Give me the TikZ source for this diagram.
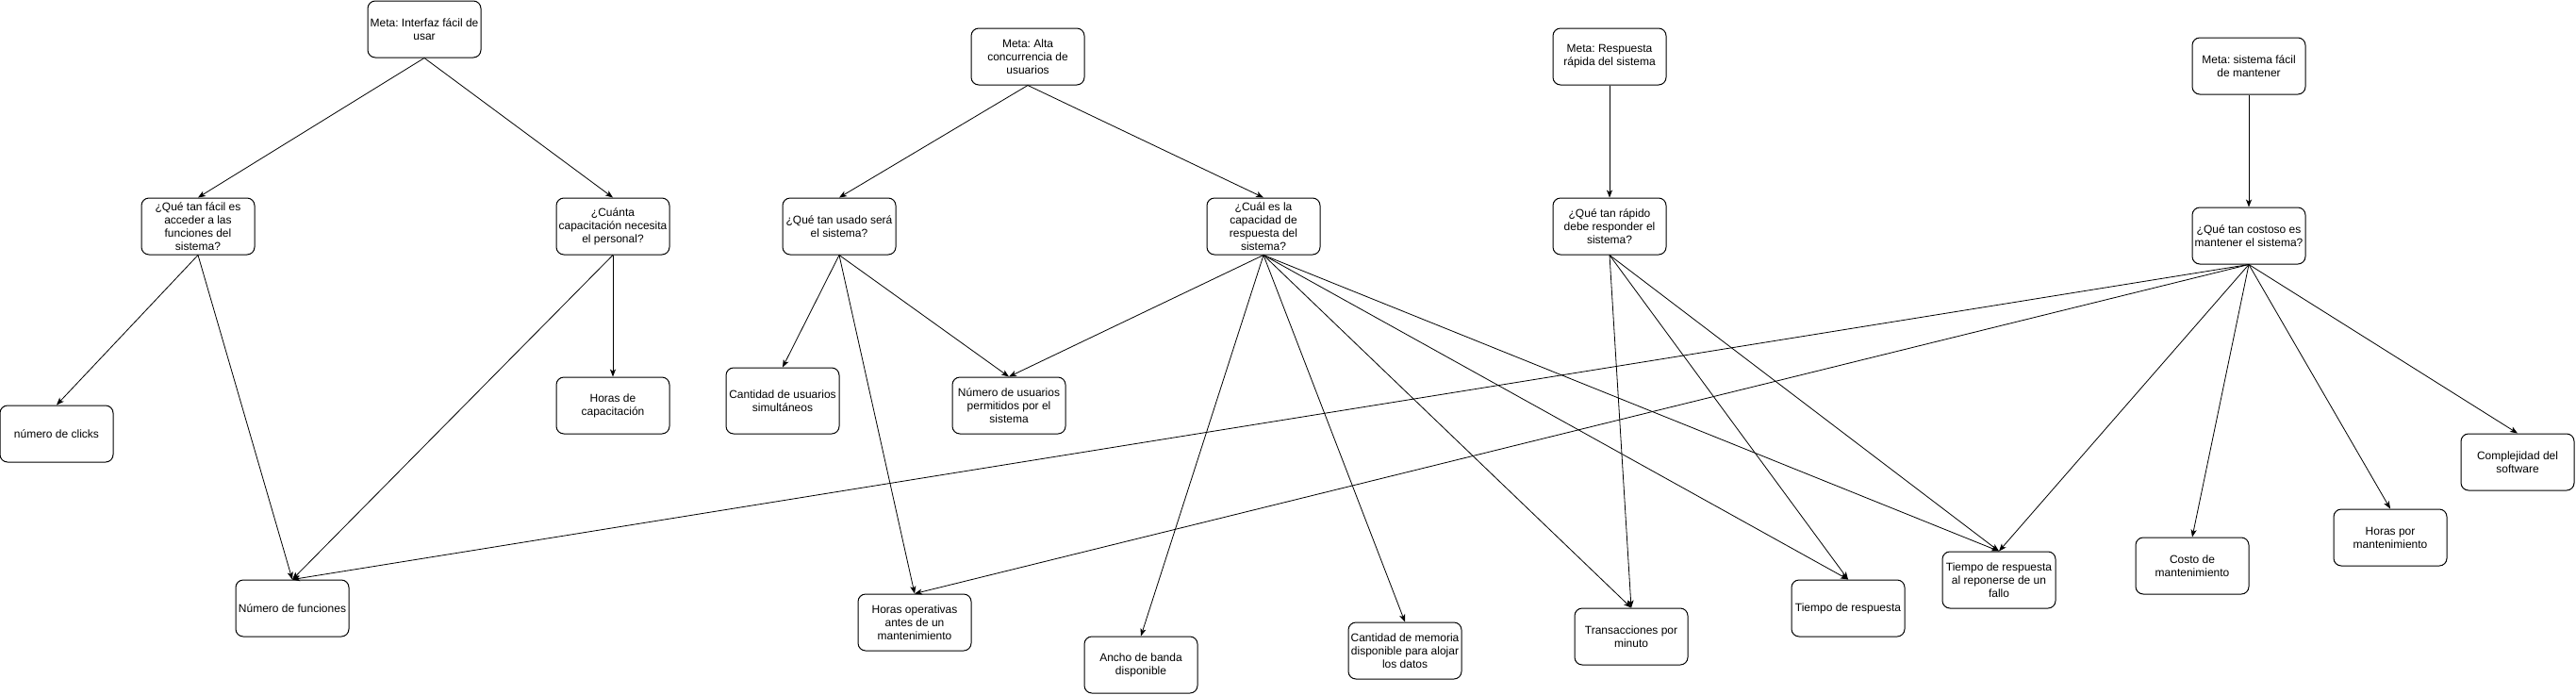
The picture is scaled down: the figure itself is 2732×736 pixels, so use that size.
\documentclass[tikz,border=0pt]{standalone}
\usepackage{fontspec}
\setmainfont{Liberation Sans}
\usepackage{tikz}
\usetikzlibrary{arrows.meta,positioning}
\frenchspacing

\begin{document}
\begin{tikzpicture}[x=0.75pt,y=-0.75pt,
  box/.style={rounded corners=6pt,draw=black,fill=white,line width=0.75pt,minimum width=90pt,minimum height=45pt,inner sep=0.5pt,align=center,font=\fontsize{9}{10.5}\selectfont},
  arrow/.style={-{Stealth[length=6pt,width=4.6pt,inset=1.6pt]},line width=0.6pt,draw=black}
]
\path[use as bounding box,fill=white] (0,0) rectangle (2732,736);
% goals
\node[box] (goalUI) at (450,31) {Meta: Interfaz fácil de\\usar};
\node[box] (goalConc) at (1090,60) {Meta: Alta\\concurrencia de\\usuarios};
\node[box] (goalResp) at (1707,60) {Meta: Respuesta\\rápida del sistema};
\node[box] (goalMaint) at (2385,70) {Meta: sistema fácil\\de mantener};
% questions
\node[box] (qEasy) at (210,240) {¿Qué tan fácil es\\acceder a las\\funciones del\\sistema?};
\node[box] (qTrain) at (650,240) {¿Cuánta\\capacitación necesita\\el personal?};
\node[box] (qUsage) at (890,240) {¿Qué tan usado será\\el sistema?};
\node[box] (qCap) at (1340,240) {¿Cuál es la\\capacidad de\\respuesta del\\sistema?};
\node[box] (qFast) at (1707,240) {¿Qué tan rápido\\debe responder el\\sistema?};
\node[box] (qCost) at (2385,250) {¿Qué tan costoso es\\mantener el sistema?};
% metrics
\node[box] (clicks) at (60,460) {número de clicks};
\node[box] (hTrain) at (650,430) {Horas de\\capacitación};
\node[box,minimum height=52.5pt] (simUsers) at (830,425) {Cantidad de usuarios\\simultáneos};
\node[box] (allowUsers) at (1070,430) {Número de usuarios\\permitidos por el\\sistema};
\node[box] (funcs) at (310,645) {Número de funciones};
\node[box] (opHours) at (970,660) {Horas operativas\\antes de un\\mantenimiento};
\node[box] (bandwidth) at (1210,705) {Ancho de banda\\disponible};
\node[box] (memory) at (1490,690) {Cantidad de memoria\\disponible para alojar\\los datos};
\node[box] (tpm) at (1730,675) {Transacciones por\\minuto};
\node[box] (respTime) at (1960,645) {Tiempo de respuesta};
\node[box] (failTime) at (2120,615) {Tiempo de respuesta\\al reponerse de un\\fallo};
\node[box] (costMaint) at (2325,600) {Costo de\\mantenimiento};
\node[box] (hoursMaint) at (2535,570) {Horas por\\mantenimiento};
\node[box] (complexity) at (2670,490) {Complejidad del\\software};
% goal -> question
\draw[arrow] (goalUI.south) -- (qEasy.north);
\draw[arrow] (goalUI.south) -- (qTrain.north);
\draw[arrow] (goalConc.south) -- (qUsage.north);
\draw[arrow] (goalConc.south) -- (qCap.north);
\draw[arrow] (goalResp.south) -- (qFast.north);
\draw[arrow] (goalMaint.south) -- (qCost.north);
% question -> metric
\draw[arrow] (qEasy.south) -- (clicks.north);
\draw[arrow] (qEasy.south) -- (funcs.north);
\draw[arrow] (qTrain.south) -- (hTrain.north);
\draw[arrow] (qTrain.south) -- (funcs.north);
\draw[arrow] (qUsage.south) -- (simUsers.north);
\draw[arrow] (qUsage.south) -- (opHours.north);
\draw[arrow] (qUsage.south) -- (allowUsers.north);
\draw[arrow] (qCap.south) -- (allowUsers.north);
\draw[arrow] (qCap.south) -- (bandwidth.north);
\draw[arrow] (qCap.south) -- (memory.north);
\draw[arrow] (qCap.south) -- (tpm.north);
\draw[arrow] (qCap.south) -- (respTime.north);
\draw[arrow] (qCap.south) -- (failTime.north);
\draw[arrow] (qFast.south) -- (tpm.north);
\draw[arrow] (qFast.south) -- (respTime.north);
\draw[arrow] (qFast.south) -- (failTime.north);
\draw[arrow] (qCost.south) -- (funcs.north);
\draw[arrow] (qCost.south) -- (opHours.north);
\draw[arrow] (qCost.south) -- (failTime.north);
\draw[arrow] (qCost.south) -- (costMaint.north);
\draw[arrow] (qCost.south) -- (hoursMaint.north);
\draw[arrow] (qCost.south) -- (complexity.north);
\end{tikzpicture}
\end{document}
